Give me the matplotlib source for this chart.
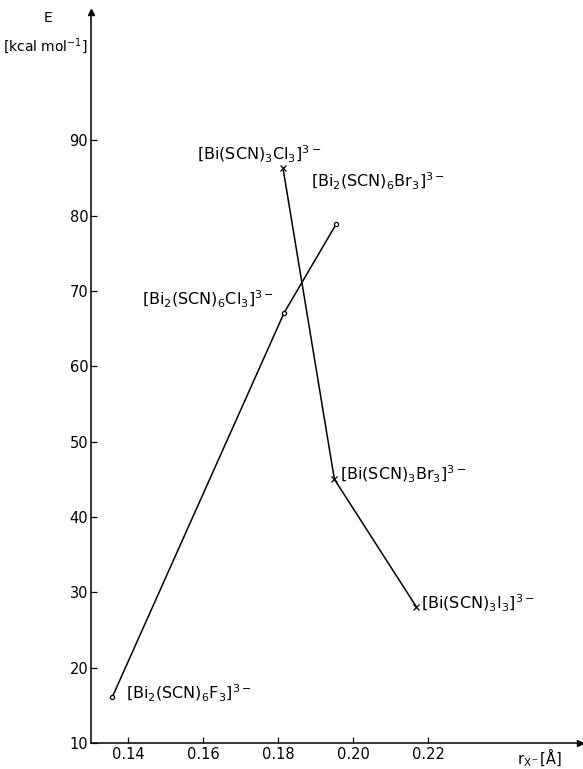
import matplotlib
matplotlib.use("Agg")
import matplotlib.pyplot as plt

# Data
bi2_labels = [r"$\left[\mathrm{Bi_2(SCN)_6F_3}\right]^{3-}$",
              r"$\left[\mathrm{Bi_2(SCN)_6Cl_3}\right]^{3-}$",
              r"$\left[\mathrm{Bi_2(SCN)_6Br_3}\right]^{3-}$"]
bi2_r = [0.1358, 0.1816, 0.1955]
bi2_E = [16.1, 67.1, 78.9]

bi_labels = [r"$\left[\mathrm{Bi(SCN)_3Cl_3}\right]^{3-}$",
             r"$\left[\mathrm{Bi(SCN)_3Br_3}\right]^{3-}$",
             r"$\left[\mathrm{Bi(SCN)_3I_3}\right]^{3-}$"]
bi_r = [0.1813, 0.1950, 0.2168]
bi_E = [86.3, 45.0, 28.1]

xticks = [0.14, 0.16, 0.18, 0.20, 0.22]
xticklabels = ["0.14", "0.16", "0.18", "0.20", "0.22"]
yticks = [10, 20, 30, 40, 50, 60, 70, 80, 90]

plt.rcParams['mathtext.fontset'] = 'dejavusans'
plt.rcParams['font.family'] = ['DejaVu Sans']

fig = plt.figure(figsize=(5.83, 7.69), dpi=100)
ax = fig.add_axes([0.156, 0.034, 0.839, 0.950])

ax.plot(bi2_r, bi2_E, color='black', lw=1.1, marker='o', ms=3,
        mfc='white', mec='black', mew=0.9)
ax.plot(bi_r, bi_E, color='black', lw=1.1, marker='x', ms=4, mew=0.9)

ax.set_xlim(0.1301, 0.2605)
ax.set_ylim(10, 107)

for s in ['top', 'right']:
    ax.spines[s].set_visible(False)
for s in ['left', 'bottom']:
    ax.spines[s].set_linewidth(1.1)

ax.set_xticks(xticks)
ax.set_xticklabels(xticklabels)
ax.set_yticks(yticks)
ax.tick_params(direction='in', length=4, width=0.9, labelsize=10.5)
ax.tick_params(axis='y', pad=2)
ax.tick_params(axis='x', pad=3)

# axis arrows
ax.plot(1, 10, '>k', ms=5, transform=ax.get_yaxis_transform(), clip_on=False)
ax.plot(0.1301, 1, '^k', ms=5, transform=ax.get_xaxis_transform(), clip_on=False)

fig.text(48/583, 1 - 18/769, "E", fontsize=10, ha='center', va='center')
fig.text(45/583, 1 - 46/769, r"[kcal mol$^{-1}$]", fontsize=10, ha='center', va='center')
fig.text(540/583, 1 - 758/769, r"r$_{\mathrm{X^-}}$[Å]", fontsize=10.5, ha='center', va='center')

# labels (offsets in pixels)
bi2_off = [(14, 3, 'left'), (-10, 13, 'right'), (-25, 42, 'left')]
bi_off = [(-86, 14, 'left'), (6, 5, 'left'), (5, 3, 'left')]

for lab, x, y, (dx, dy, ha) in zip(bi2_labels, bi2_r, bi2_E, bi2_off):
    ax.annotate(lab, (x, y), xytext=(dx, dy), textcoords='offset pixels',
                ha=ha, va='center', fontsize=11.5)
for lab, x, y, (dx, dy, ha) in zip(bi_labels, bi_r, bi_E, bi_off):
    ax.annotate(lab, (x, y), xytext=(dx, dy), textcoords='offset pixels',
                ha=ha, va='center', fontsize=11.5)

fig.savefig("out.png", dpi=100)
